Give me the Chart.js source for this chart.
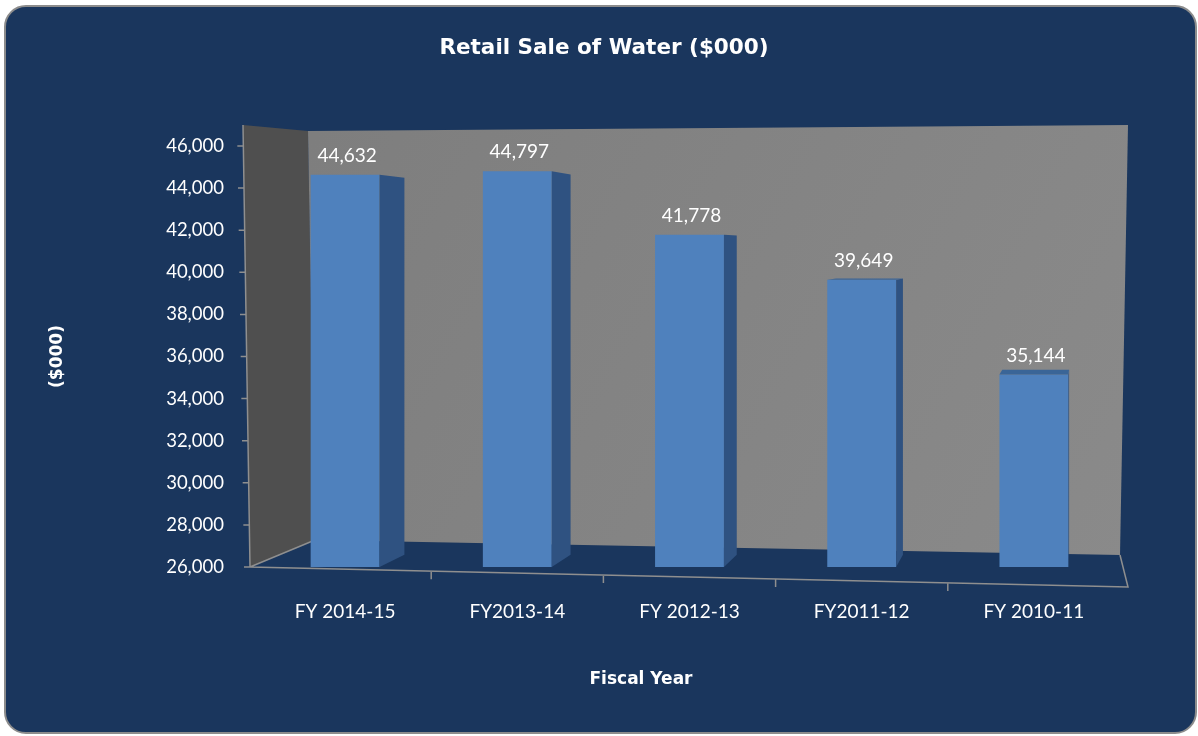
<!DOCTYPE html>
<html><head><meta charset="utf-8">
<script src="https://cdn.jsdelivr.net/npm/chart.js@4.4.0/dist/chart.umd.min.js"></script>
<style>
html,body{margin:0;padding:0;background:#fff;}
#wrap{position:relative;width:1198px;height:736px;overflow:hidden;}
#card{position:absolute;left:4px;top:5px;width:1189px;height:725px;background:#1a365d;border:2px solid #8c8c8c;border-radius:22px;}
canvas{position:absolute;left:0;top:0;}
</style></head><body>
<div id="wrap"><div id="card"></div><canvas id="c" width="1198" height="736"></canvas></div>
<script>
// ---- data ----
const categories = ['FY 2014-15', 'FY2013-14', 'FY 2012-13', 'FY2011-12', 'FY 2010-11'];
const retailSales = [44632, 44797, 41778, 39649, 35144];
const yMin = 26000;
const yMax = 46000;
const yStep = 2000;
const chartTitle = 'Retail Sale of Water ($000)';
const xTitle = 'Fiscal Year';
const yTitle = '($000)';

const FONT = 'Lato, "Open Sans", "DejaVu Sans", sans-serif';
const BOLD_FONT = '"DejaVu Sans", Lato, sans-serif';
Chart.defaults.font.family = FONT;
const EDGE = '#8f8f8f';
const fmt = v => Number(v).toLocaleString('en-US');

function poly(ctx, pts, fill) {
  ctx.beginPath();
  ctx.moveTo(pts[0][0], pts[0][1]);
  for (let i = 1; i < pts.length; i++) ctx.lineTo(pts[i][0], pts[i][1]);
  ctx.closePath();
  ctx.fillStyle = fill;
  ctx.fill();
}

const scene3d = {
  id: 'scene3d',
  beforeDatasetsDraw(chart) {
    const {ctx, chartArea: {left: L, right: R, top: T, bottom: B}} = chart;
    const ys = chart.scales.y;
    const xs = chart.scales.x;
    const fx0 = L - 9, fx1 = R + 8, drop = 20;
    const edgeY = x => B + drop * (x - fx0) / (fx1 - fx0);
    ctx.save();
    // left wall
    poly(ctx, [[L - 16, T - 21], [L + 49, T - 15], [L + 56, B - 27], [L - 9, B]], '#4f4f4f');
    // back wall
    const g = ctx.createLinearGradient(L + 49, T, R + 8, B);
    g.addColorStop(0, '#7e7e7e');
    g.addColorStop(1, '#8a8a8a');
    poly(ctx, [[L + 49, T - 15], [R + 8, T - 21], [R, B - 12], [L + 56, B - 27]], g);
    // edges
    ctx.strokeStyle = EDGE;
    ctx.lineWidth = 1.5;
    ctx.beginPath();
    ctx.moveTo(L - 16, T - 21); ctx.lineTo(fx0, B);
    ctx.lineTo(fx1, B + drop);
    ctx.lineTo(R, B - 12);
    ctx.moveTo(fx0, B); ctx.lineTo(L + 56, B - 27);
    // y tick marks following the slanted axis
    ys.ticks.forEach(t => {
      const y = ys.getPixelForValue(t.value);
      const x = (L - 16) + 7 * (y - (T - 21)) / (B - (T - 21));
      ctx.moveTo(x - 6, y); ctx.lineTo(x, y);
    });
    // x tick marks between categories, on the floor front edge
    for (let i = 0; i < categories.length - 1; i++) {
      const x = (xs.getPixelForValue(i) + xs.getPixelForValue(i + 1)) / 2;
      const y = edgeY(x);
      ctx.moveTo(x, y); ctx.lineTo(x, y + 8);
    }
    ctx.stroke();
    ctx.restore();
  },
  afterDatasetsDraw(chart) {
    const {ctx, chartArea: {right: R, top: T, bottom: B}} = chart;
    const eye = T + 0.25 * (B - T);
    const meta = chart.getDatasetMeta(0);
    ctx.save();
    meta.data.forEach((bar, i) => {
      const p = bar.getProps(['x', 'y', 'width', 'base'], true);
      const x = p.x, y = p.y, width = p.width;
      const base = Math.min(p.base, B);
      const x1 = x - width / 2, x2 = x + width / 2;
      const side = Math.max(0, (R - 30 - x2) * 0.035);
      const backTop = y + (eye - y) * 0.039;
      const backBase = base + (eye - base) * 0.039;
      if (side > 0.5) {
        poly(ctx, [[x2, y], [x2 + side, backTop], [x2 + side, backBase], [x2, base]], '#2f5281');
      }
      if (backTop < y - 0.5) {
        poly(ctx, [[x1, y], [x2, y], [x2 + side, backTop], [x1 + side + 2, backTop]], '#3a6597');
      }
      ctx.fillStyle = '#ffffff';
      ctx.font = '19px ' + FONT;
      ctx.textAlign = 'center';
      ctx.textBaseline = 'middle';
      ctx.fillText(fmt(retailSales[i]), x + 2, y - 19);
    });
    ctx.restore();
  },
  afterDraw(chart) {
    const {ctx} = chart;
    ctx.save();
    ctx.fillStyle = '#ffffff';
    ctx.textAlign = 'center';
    ctx.textBaseline = 'middle';
    ctx.font = 'bold 21.5px ' + BOLD_FONT;
    ctx.fillText(chartTitle, 604, 48);
    ctx.font = 'bold 17px ' + BOLD_FONT;
    ctx.fillText(xTitle, 641, 680);
    ctx.restore();
  }
};

new Chart(document.getElementById('c'), {
  type: 'bar',
  data: {
    labels: categories,
    datasets: [{
      data: retailSales,
      backgroundColor: '#4f81bd',
      borderWidth: 0,
      barPercentage: 0.40,
      categoryPercentage: 1.0
    }]
  },
  options: {
    responsive: false,
    animation: false,
    devicePixelRatio: 1,
    layout: {padding: {left: 0, right: 78, top: 146, bottom: 0}},
    plugins: {
      legend: {display: false},
      tooltip: {enabled: false},
      title: {display: false}
    },
    scales: {
      x: {
        offset: true,
        grid: {display: false, drawTicks: false},
        border: {display: false},
        ticks: {color: '#ffffff', font: {family: FONT, size: 19}, padding: 33, maxRotation: 0, autoSkip: false},
        afterFit(s) { s.height = 169; }
      },
      y: {
        min: yMin,
        max: yMax,
        grid: {display: false, drawTicks: false},
        border: {display: false},
        ticks: {stepSize: yStep, color: '#ffffff', font: {family: FONT, size: 18.5}, padding: 35, callback: v => fmt(v)},
        title: {display: true, text: yTitle, color: '#ffffff', font: {family: BOLD_FONT, size: 17, weight: 'bold'}, padding: {top: 47, bottom: 0}},
        afterFit(s) { s.width = 259; }
      }
    }
  },
  plugins: [scene3d]
});
</script>
</body></html>
